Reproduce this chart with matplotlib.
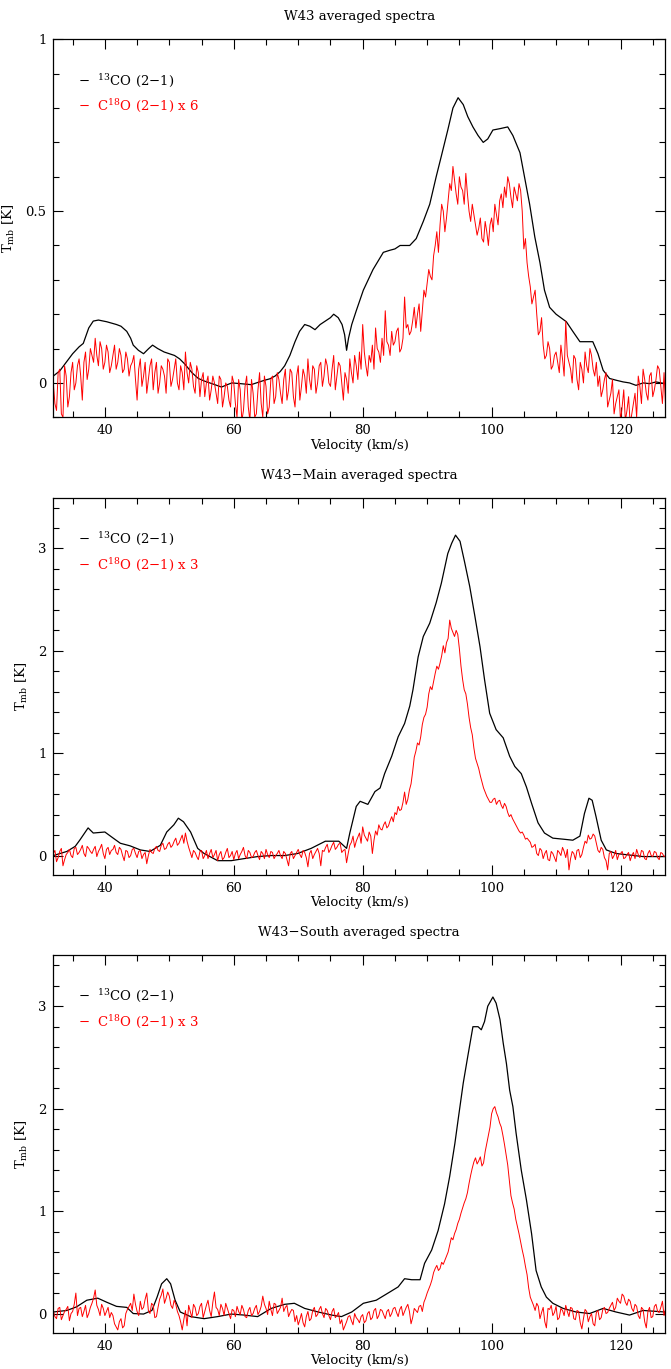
import numpy as np
import matplotlib
matplotlib.use("Agg")
import matplotlib.pyplot as plt
from matplotlib.ticker import MultipleLocator, FuncFormatter

plt.rcParams['font.family'] = ['DejaVu Serif']
plt.rcParams['mathtext.fontset'] = 'dejavuserif'

# ---------------- data ----------------
titles = ["W43 averaged spectra", "W43\u2212Main averaged spectra", "W43\u2212South averaged spectra"]
red_factors = [6, 3, 3]

# red channel grid (km/s): channels at 32.0, 32.25, 32.5, ...
red_v0, red_dv = 32.0, 0.25

# Panel 1: W43 13CO
v1_black = [32, 33, 34, 35, 36, 36.65, 37.5, 38.2, 39, 40.3, 41.8, 42.5, 43.4, 44, 44.4, 45.2, 46, 46.8, 47.4,
            48.2, 49.2, 50, 50.8, 51.6, 52.4, 53.5, 54.5, 55.5, 56.6, 58.1, 59, 59.7, 61, 62.7, 63.5, 64.8,
            65.6, 66.4, 67.2, 67.9, 68.7, 69.5, 70.2, 71, 71.8, 72.6, 73.4, 74.2, 75.0, 75.5, 76.2, 76.8,
            77.2, 77.5, 77.8, 78.3, 79, 80.1, 81.6, 83.2, 84.2, 85, 85.8, 87.3, 88.3, 89.4, 90.4, 91.4, 92.2,
            93.2, 94, 94.8, 95.6, 96.3, 97.1, 97.9, 98.7, 99.4, 100.2, 101.3, 102.5, 103.3, 104.4, 105.1,
            105.9, 106.7, 107.5, 108.2, 109, 110, 111.6, 112.6, 113.7, 114.7, 115.7, 116.5, 117.3, 118.3,
            119.3, 120.4, 121.4, 122.4, 123.5, 124.5, 125.5, 126.9]
t1_black = [0.02, 0.035, 0.06, 0.085, 0.105, 0.115, 0.16, 0.18, 0.183, 0.178, 0.17, 0.165, 0.15, 0.13, 0.11,
            0.095, 0.085, 0.10, 0.11, 0.10, 0.09, 0.085, 0.08, 0.07, 0.055, 0.03, 0.013, 0.005, -0.002,
            -0.012, -0.005, 0.0, -0.002, -0.005, 0.0, 0.008, 0.012, 0.02, 0.033, 0.05, 0.08, 0.12, 0.15,
            0.17, 0.165, 0.155, 0.17, 0.18, 0.19, 0.2, 0.19, 0.17, 0.14, 0.095, 0.13, 0.17, 0.21, 0.27,
            0.33, 0.38, 0.386, 0.39, 0.40, 0.40, 0.42, 0.47, 0.52, 0.60, 0.66, 0.736, 0.80, 0.83, 0.81,
            0.775, 0.745, 0.72, 0.70, 0.71, 0.736, 0.74, 0.745, 0.72, 0.67, 0.60, 0.52, 0.425, 0.35, 0.27,
            0.22, 0.20, 0.178, 0.15, 0.12, 0.12, 0.12, 0.085, 0.037, 0.013, 0.008, 0.003, 0.0, -0.007,
            0.0, -0.002, 0.003, -0.002]
# C18O x6, channels at 32.0, 32.5, ... 127.0
t1_red_a = [0.00, -0.08, 0.04, -0.10, 0.02, -0.04, 0.06, 0.00, 0.07, -0.05, 0.09, 0.04, 0.08, 0.13, 0.05,
            0.10, 0.06, 0.09, 0.05, 0.11, 0.06, 0.08, 0.04, 0.07, 0.05, 0.08, -0.05, 0.07, 0.02, -0.03,
            0.05, -0.02, 0.06, 0.00, 0.04, -0.03, 0.06, 0.01, 0.07, -0.02, 0.03, 0.09, 0.00, 0.04, -0.03,
            0.03, 0.01, -0.04, 0.02, -0.02, 0.00, -0.06, 0.01, -0.04, -0.01, -0.07, 0.00, -0.10, -0.02,
            -0.08, 0.02, -0.11, -0.03, -0.09, 0.03, -0.10, -0.01, -0.07, 0.02, -0.04, 0.01, -0.06, 0.04,
            -0.02, 0.03, -0.07, 0.05, -0.01, 0.02, 0.07, -0.02, 0.04, 0.00, 0.06, 0.02, 0.05, -0.01, 0.08,
            0.02, 0.05, -0.05, 0.01, 0.07, 0.00, 0.05, 0.09, 0.17, 0.05, 0.08, 0.11, 0.16, 0.09, 0.13,
            0.21, 0.11, 0.15, 0.12, 0.16, 0.10, 0.25, 0.17, 0.15, 0.22, 0.20, 0.15, 0.27, 0.29, 0.31,
            0.37, 0.44, 0.46, 0.50, 0.48, 0.58, 0.63, 0.55, 0.60, 0.56, 0.61, 0.50, 0.52, 0.46, 0.45,
            0.42, 0.47, 0.40, 0.48, 0.52, 0.46, 0.55, 0.57, 0.60, 0.54, 0.57, 0.53, 0.56, 0.39, 0.35,
            0.28, 0.25, 0.20, 0.15, 0.11, 0.08, 0.10, 0.05, 0.09, 0.03, 0.07, 0.18, 0.06, 0.00, 0.07,
            -0.02, 0.04, 0.09, 0.03, 0.08, 0.02, -0.01, -0.04, 0.01, -0.07, -0.03, -0.09, -0.04, -0.11,
            -0.02, -0.08, -0.12, -0.06, -0.10, -0.01, 0.04, -0.03, 0.02, -0.04, 0.01, 0.04, -0.06, -0.07]
# C18O x6, channels at 32.25, 32.75, ... 126.75
t1_red_b = [-0.06, 0.03, -0.09, 0.05, -0.07, 0.03, -0.02, 0.05, 0.02, 0.06, 0.01, 0.10, 0.06, 0.08,
            0.12, 0.04, 0.11, 0.03, 0.08, 0.04, 0.10, 0.03, 0.09, 0.02, 0.06, 0.01, 0.04, -0.01, 0.06,
            0.01, 0.07, 0.03, -0.03, 0.05, 0.02, 0.07, -0.01, 0.04, 0.00, 0.05, -0.02, 0.03, 0.06, -0.01,
            0.05, -0.04, 0.03, 0.00, -0.05, 0.02, -0.03, 0.02, -0.07, 0.00, -0.05, 0.02, -0.06, 0.01,
            -0.11, -0.01, -0.07, 0.01, -0.10, -0.02, -0.06, 0.02, -0.09, 0.01, -0.06, 0.03, -0.03, 0.01,
            -0.05, 0.04, -0.04, 0.02, -0.05, 0.04, -0.03, 0.01, 0.05, -0.03, 0.05, -0.01, 0.07, 0.00,
            0.04, -0.02, 0.06, 0.00, 0.03, -0.03, 0.03, 0.08, 0.01, 0.04, 0.09, 0.02, 0.06, 0.04, 0.10,
            0.06, 0.08, 0.12, 0.08, 0.11, 0.15, 0.09, 0.13, 0.16, 0.14, 0.18, 0.16, 0.23, 0.21, 0.25,
            0.33, 0.30, 0.40, 0.38, 0.52, 0.44, 0.53, 0.56, 0.59, 0.52, 0.57, 0.52, 0.55, 0.47, 0.49,
            0.43, 0.48, 0.41, 0.44, 0.46, 0.44, 0.49, 0.53, 0.51, 0.54, 0.58, 0.51, 0.55, 0.58, 0.50,
            0.42, 0.31, 0.23, 0.27, 0.14, 0.19, 0.07, 0.12, 0.04, 0.08, 0.06, 0.11, 0.02, 0.08, 0.04,
            0.08, 0.01, 0.06, 0.00, 0.05, 0.10, 0.04, 0.06, 0.02, -0.02, 0.03, -0.05, 0.01, -0.06, -0.02,
            -0.07, -0.11, -0.04, -0.09, -0.03, 0.02, -0.06, 0.01, -0.05, 0.03, -0.02, 0.05, -0.01, 0.03]

# Panel 2: W43-Main
v2_black = [32, 34.1, 35.4, 36.1, 37.4, 38.2, 40, 41.3, 42.4, 43.9, 45.5, 47, 48.6, 49.6, 50.7, 51.4,
            52.2, 53.3, 54.4, 55.4, 57.5, 59.6, 61.6, 63.7, 65.8, 67.9, 69.9, 72, 74.2, 76.3, 77.5, 78.0,
            79, 79.6, 80.8, 81.9, 82.7, 83.4, 84.5, 85.5, 86.5, 87.3, 87.8, 88.6, 89.4, 90.4, 91.4,
            92.2, 93.2, 93.8, 94.4, 95.1, 95.8, 96.6, 97.4, 98.2, 98.9, 99.7, 100.7, 101.8, 102.8,
            103.6, 104.6, 105.4, 106.2, 107.2, 108.2, 109.5, 111.1, 112.6, 113.7, 114.4, 115.1, 115.6,
            116.2, 117, 117.8, 119.3, 121.4, 123.5, 126.9]
t2_black = [0.0, 0.04, 0.09, 0.15, 0.27, 0.22, 0.23, 0.17, 0.12, 0.095, 0.055, 0.04, 0.10, 0.23, 0.30,
            0.365, 0.33, 0.23, 0.07, 0.02, -0.05, -0.05, -0.03, -0.01, 0.0, 0.0, 0.02, 0.07, 0.14, 0.14,
            0.07, 0.22, 0.48, 0.53, 0.50, 0.625, 0.66, 0.80, 0.97, 1.16, 1.29, 1.46, 1.62, 1.94, 2.14,
            2.27, 2.47, 2.66, 2.95, 3.05, 3.13, 3.07, 2.87, 2.63, 2.34, 2.04, 1.72, 1.39, 1.23, 1.15,
            0.97, 0.87, 0.80, 0.67, 0.51, 0.32, 0.22, 0.17, 0.16, 0.15, 0.19, 0.41, 0.56, 0.54, 0.38,
            0.15, 0.055, 0.02, 0.005, -0.01, -0.01]
t2_red_a = [0.02, -0.06, 0.04, -0.10, 0.01, 0.06, -0.02, 0.08, 0.03, 0.10, -0.01, 0.07, 0.02, 0.09, 0.04,
            0.11, -0.03, 0.08, 0.05, 0.10, 0.01, 0.06, -0.05, 0.04, 0.00, 0.07, -0.02, 0.05, 0.01, -0.08,
            0.06, 0.02, 0.09, 0.04, 0.12, 0.07, 0.13, 0.10, 0.17, 0.12, 0.20, 0.22, 0.08, -0.02, 0.03,
            -0.04, 0.05, 0.00, -0.03, 0.06, 0.01, -0.05, 0.04, -0.02, 0.07, 0.00, -0.04, 0.05, 0.01,
            0.08, -0.03, 0.03, -0.01, 0.05, -0.04, 0.02, 0.06, -0.02, 0.03, 0.00, 0.05, -0.03, 0.02,
            -0.10, 0.04, 0.00, 0.06, -0.02, 0.03, -0.11, 0.05, 0.01, 0.07, -0.10, 0.04, 0.11, 0.06,
            0.13, 0.08, 0.12, 0.05, -0.07, 0.10, 0.19, 0.14, 0.22, 0.28, 0.17, 0.23, 0.02, 0.24, 0.30,
            0.25, 0.33, 0.29, 0.38, 0.42, 0.48, 0.45, 0.62, 0.55, 0.70, 0.96, 1.10, 1.16, 1.35, 1.45,
            1.65, 1.70, 1.85, 1.88, 2.05, 2.08, 2.30, 2.18, 2.20, 2.02, 1.72, 1.58, 1.35, 1.18, 0.95,
            0.85, 0.72, 0.62, 0.55, 0.52, 0.56, 0.53, 0.49, 0.51, 0.42, 0.40, 0.33, 0.27, 0.22, 0.20,
            0.17, 0.13, 0.09, 0.02, 0.07, -0.03, 0.05, -0.05, 0.02, -0.06, 0.03, 0.08, -0.02, -0.14,
            0.04, -0.04, 0.06, 0.01, 0.14, 0.20, 0.17, 0.19, 0.05, 0.08, -0.02, -0.14, 0.04, 0.00,
            -0.04, 0.02, -0.03, 0.01, -0.05, 0.03, 0.06, -0.02, 0.04, -0.04, 0.05, -0.01, 0.03, -0.04,
            0.02, 0.00]
t2_red_b = [0.05, -0.02, 0.07, -0.04, 0.03, 0.00, 0.07, 0.01, 0.06, 0.02, 0.09, 0.04, 0.06, -0.01,
            0.07, 0.02, 0.06, 0.01, 0.06, 0.03, 0.08, 0.00, 0.05, -0.02, 0.06, 0.02, 0.04, -0.03, 0.03,
            0.00, 0.03, 0.07, 0.05, 0.10, 0.06, 0.11, 0.08, 0.14, 0.10, 0.16, 0.12, 0.14, 0.03, 0.05,
            -0.01, 0.04, -0.03, 0.05, 0.02, -0.02, 0.05, 0.01, -0.04, 0.03, -0.02, 0.04, 0.02, -0.03,
            0.04, 0.00, 0.05, -0.02, 0.03, 0.00, 0.04, -0.03, 0.01, 0.04, -0.03, 0.02, 0.00, 0.04,
            -0.04, 0.02, -0.03, 0.03, 0.01, 0.05, -0.02, 0.02, -0.03, 0.04, 0.02, 0.05, 0.08, 0.03,
            0.10, 0.06, 0.11, 0.03, 0.06, 0.02, 0.13, 0.08, 0.18, 0.12, 0.20, 0.14, 0.19, 0.15, 0.20,
            0.26, 0.30, 0.27, 0.34, 0.33, 0.40, 0.44, 0.52, 0.50, 0.64, 0.82, 1.02, 1.08, 1.28, 1.38,
            1.58, 1.62, 1.78, 1.82, 1.95, 1.98, 2.12, 2.22, 2.14, 2.16, 1.85, 1.62, 1.48, 1.25, 1.05,
            0.90, 0.78, 0.66, 0.58, 0.52, 0.55, 0.50, 0.54, 0.46, 0.48, 0.38, 0.36, 0.30, 0.24, 0.23,
            0.16, 0.15, 0.08, 0.11, 0.00, 0.05, 0.02, -0.04, 0.04, -0.02, 0.05, 0.00, 0.04, 0.06,
            -0.03, 0.02, 0.05, -0.02, 0.08, 0.12, 0.16, 0.21, 0.12, 0.03, 0.06, -0.05, 0.02, -0.03,
            0.05, 0.01, 0.04, -0.02, 0.03, 0.00, -0.03, 0.01, 0.05, -0.03, 0.02, 0.00, 0.04, -0.02,
            0.03, -0.01]

# Panel 3: W43-South
v3_black = [32, 34.1, 35.6, 37.2, 38.9, 40.3, 41.8, 43.4, 44.4, 46, 47.3, 48.1, 48.8, 49.6, 50.2, 50.9,
            51.7, 53.3, 55.4, 57.5, 59.6, 61.6, 63.7, 65.8, 67.9, 69.4, 71, 73.1, 75.2, 76.7, 78.3,
            80.1, 82.1, 84.2, 85.5, 86.5, 87.6, 88.9, 89.6, 90.7, 91.7, 92.7, 93.5, 94.3, 94.8, 95.6,
            96.3, 97.1, 97.9, 98.4, 98.9, 99.4, 100.2, 100.7, 101.3, 101.8, 102.3, 102.8, 103.3,
            103.8, 104.6, 105.4, 106.2, 106.9, 107.7, 108.5, 109.5, 111.1, 113.1, 115.2, 117.3,
            119.3, 121.4, 123.5, 126.9]
t3_black = [0.015, 0.03, 0.065, 0.13, 0.15, 0.11, 0.07, 0.06, 0.0, -0.005, 0.03, 0.16, 0.29, 0.34, 0.29,
            0.13, 0.015, -0.03, -0.05, -0.03, -0.005, -0.015, -0.03, 0.05, 0.09, 0.10, 0.05, 0.015,
            -0.015, -0.03, 0.015, 0.10, 0.13, 0.21, 0.26, 0.34, 0.33, 0.33, 0.49, 0.62, 0.81, 1.07,
            1.34, 1.66, 1.89, 2.25, 2.51, 2.80, 2.80, 2.77, 2.85, 3.0, 3.09, 3.03, 2.87, 2.64, 2.44,
            2.18, 2.02, 1.76, 1.40, 1.11, 0.78, 0.42, 0.26, 0.16, 0.10, 0.05, 0.015, 0.0, 0.05, 0.015,
            -0.015, 0.03, 0.015]
t3_red_a = [0.03, -0.05, 0.06, -0.02, 0.04, -0.07, 0.02, 0.20, 0.05, -0.03, 0.08, 0.00, 0.10, 0.23, 0.04,
            0.09, -0.02, 0.06, 0.01, -0.10, -0.16, -0.05, -0.12, 0.04, 0.10, 0.19, 0.02, 0.12, 0.06,
            0.20, 0.00, 0.08, -0.03, 0.14, 0.24, 0.15, 0.17, 0.05, 0.09, -0.02, -0.16, 0.03, 0.08,
            -0.04, 0.06, 0.00, 0.10, 0.02, 0.13, -0.03, 0.21, 0.04, 0.09, -0.02, 0.05, -0.05, 0.03,
            0.07, -0.01, 0.04, -0.04, 0.06, 0.00, 0.08, 0.02, 0.17, 0.05, 0.12, -0.02, 0.09, 0.03,
            0.15, 0.06, -0.03, 0.04, -0.08, -0.11, 0.00, -0.13, 0.02, -0.05, 0.06, -0.01, 0.07, -0.04,
            0.03, -0.06, 0.05, -0.02, -0.10, -0.16, -0.08, -0.02, -0.11, -0.04, -0.09, -0.01, -0.07,
            0.02, -0.04, 0.05, -0.02, 0.03, -0.05, 0.04, 0.00, 0.06, -0.03, 0.07, 0.02, 0.09, -0.10,
            0.05, 0.01, 0.08, 0.11, 0.20, 0.28, 0.40, 0.47, 0.44, 0.48, 0.56, 0.67, 0.72, 0.82, 0.92,
            1.03, 1.12, 1.27, 1.42, 1.52, 1.49, 1.44, 1.58, 1.74, 1.95, 2.02, 1.92, 1.82, 1.65, 1.45,
            1.15, 1.02, 0.85, 0.70, 0.55, 0.38, 0.16, 0.08, 0.10, -0.05, 0.06, -0.14, 0.04, -0.02,
            0.07, -0.04, 0.03, 0.08, -0.03, 0.05, -0.06, 0.02, -0.15, 0.04, -0.08, 0.00, -0.12, 0.03,
            -0.04, 0.06, 0.01, 0.08, 0.03, 0.15, 0.10, 0.17, 0.08, 0.12, 0.02, 0.07, -0.05, 0.04,
            -0.14, 0.06, -0.03, 0.09, 0.01, 0.12, 0.05]
t3_red_b = [-0.03, 0.05, -0.06, 0.02, 0.07, 0.00, 0.09, -0.02, 0.06, 0.02, -0.04, 0.06, 0.15, 0.08,
            -0.02, 0.05, 0.02, -0.04, -0.02, -0.13, -0.08, -0.14, 0.00, 0.07, 0.03, 0.09, -0.02, 0.04,
            0.14, 0.03, 0.10, -0.04, 0.06, 0.18, 0.10, 0.21, 0.08, 0.13, 0.02, -0.08, -0.06, -0.12,
            0.02, 0.09, -0.02, 0.07, -0.04, 0.08, 0.03, 0.11, 0.06, -0.02, 0.05, 0.10, 0.00, 0.04,
            -0.03, 0.02, 0.08, -0.03, 0.03, -0.02, 0.05, -0.01, 0.07, 0.09, -0.01, 0.04, 0.10, 0.00,
            0.06, 0.02, 0.08, 0.01, 0.03, -0.02, -0.06, -0.09, -0.03, -0.07, 0.03, -0.03, 0.04, 0.00,
            0.05, -0.02, 0.02, -0.04, 0.01, -0.06, -0.12, -0.03, -0.07, 0.00, -0.06, -0.03, -0.09,
            0.00, -0.06, 0.03, -0.05, 0.04, -0.01, 0.02, -0.03, 0.05, 0.01, 0.04, -0.02, 0.06, 0.02,
            -0.04, 0.03, 0.07, 0.02, 0.15, 0.24, 0.33, 0.44, 0.42, 0.50, 0.52, 0.60, 0.74, 0.78, 0.88,
            0.98, 1.08, 1.18, 1.35, 1.48, 1.46, 1.53, 1.47, 1.66, 1.82, 2.00, 1.96, 1.86, 1.74, 1.55,
            1.30, 1.08, 0.92, 0.78, 0.62, 0.46, 0.25, 0.12, 0.03, 0.07, 0.01, -0.08, 0.05, 0.08, 0.01,
            -0.06, 0.05, -0.02, 0.02, 0.06, -0.05, 0.03, -0.09, -0.05, 0.02, -0.03, -0.10, 0.01,
            -0.06, 0.04, 0.00, 0.05, 0.11, 0.06, 0.12, 0.19, 0.11, 0.14, 0.05, 0.09, -0.02, 0.06,
            -0.08, 0.02, -0.04, 0.07, 0.02, 0.06, -0.02]

blacks = [(v1_black, t1_black), (v2_black, t2_black), (v3_black, t3_black)]
reds = [(t1_red_a, t1_red_b), (t2_red_a, t2_red_b), (t3_red_a, t3_red_b)]

# ---------------- layout ----------------
W, H = 671, 1369
fig = plt.figure(figsize=(W / 100, H / 100), dpi=100)

left_px, right_px = 53.3, 665.0
panels_px = [(39.3, 417.3), (498.3, 875.0), (955.0, 1333.0)]
ylims = [(-0.1, 1.0), (-0.19, 3.49), (-0.19, 3.5)]
ymaj = [0.5, 1.0, 1.0]
ymin_ = [0.1, 0.2, 0.2]
xlim = (32.0, 126.9)

for i in range(3):
    top, bot = panels_px[i]
    ax = fig.add_axes([left_px / W, 1 - bot / H, (right_px - left_px) / W, (bot - top) / H])
    vb, tb = blacks[i]
    ax.plot(vb, tb, color='black', lw=0.9)
    ra, rb = reds[i]
    n = min(len(ra), len(rb) + 1)
    tr = np.empty(2 * n - 1)
    tr[0::2] = ra[:n]
    tr[1::2] = rb[:n - 1]
    vr = red_v0 + red_dv * np.arange(len(tr))
    ax.plot(vr, tr, color='red', lw=0.7)

    ax.set_xlim(*xlim)
    ax.set_ylim(*ylims[i])
    ax.xaxis.set_major_locator(MultipleLocator(20))
    ax.xaxis.set_minor_locator(MultipleLocator(5))
    ax.yaxis.set_major_locator(MultipleLocator(ymaj[i]))
    ax.yaxis.set_minor_locator(MultipleLocator(ymin_[i]))
    ax.yaxis.set_major_formatter(FuncFormatter(lambda y, p: "%g" % round(y, 3)))
    ax.tick_params(which='both', direction='in', top=True, right=True, labelsize=9.5, width=0.8)
    ax.tick_params(which='major', length=7, pad=5)
    ax.tick_params(which='minor', length=4)
    for s in ax.spines.values():
        s.set_linewidth(0.9)

    ax.set_title(titles[i], fontsize=9.5, pad=14)
    ax.set_xlabel("Velocity (km/s)", fontsize=9.5, labelpad=1)
    ax.set_ylabel(r"T$_{\rm mb}$ [K]", fontsize=9.5, labelpad=6)

    ax.text(0.04, 0.892, r"$-$  $^{13}$CO (2$-$1)", transform=ax.transAxes, fontsize=9.5,
            color='black', va='center')
    ax.text(0.04, 0.825, r"$-$  C$^{18}$O (2$-$1) x %d" % red_factors[i], transform=ax.transAxes,
            fontsize=9.5, color='red', va='center')

fig.savefig("out.png", dpi=100)
